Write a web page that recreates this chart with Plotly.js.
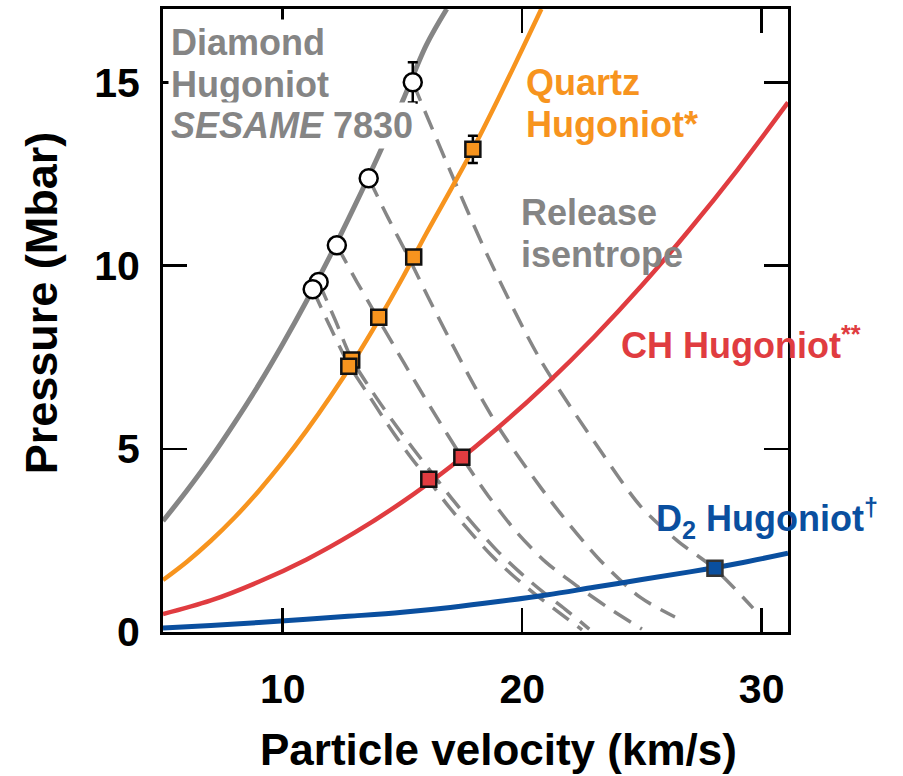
<!DOCTYPE html>
<html><head><meta charset="utf-8">
<script src="https://cdn.plot.ly/plotly-3.0.1.min.js"></script>
<style>html,body{margin:0;padding:0;background:#fff}</style>
</head><body><div id="chart" style="width:903px;height:776px"></div>
<script>
// Hugoniot curves (particle velocity km/s, pressure Mbar)
const diamondU = [5,6,7,8,9,10,11,12,13,14,15,16,16.85];
const diamondP = [3.03,3.86,4.75,5.72,6.75,7.86,9.04,10.29,11.62,13.01,14.48,16.02,17.0];
const quartzU = [5,6,7,8,9,10,11,12,13,14,15,16,17,18,19,20,20.8];
const quartzP = [1.42,1.92,2.49,3.13,3.85,4.64,5.50,6.43,7.43,8.51,9.66,10.88,12.05,13.25,14.55,15.9,17.0];
const chU = [5,7,9,11,13,15,17,19,21,23,25,27,29,31.1];
const chP = [0.49,0.86,1.37,1.98,2.71,3.55,4.51,5.58,6.76,8.05,9.46,10.99,12.62,14.45];
const d2U = [5,7,9,11,13,15,17,19,21,23,25,27,29,31.1];
const d2P = [0.11,0.18,0.26,0.35,0.44,0.54,0.67,0.83,1.01,1.22,1.43,1.64,1.87,2.15];

// Release isentropes
const rel1U = [15.43,16.85,18.57,20.74,23.37,24.92,26.46,28.05,29.64];
const rel1P = [15.0,12.8,10.25,7.45,4.85,3.45,2.5,1.72,0.65];
const rel2U = [13.59,14.4,15.25,16.1,17.0,17.94,19.0,20.03,21.58,23.25,24.92,26.38];
const rel2P = [12.38,11.3,10.23,9.1,7.95,6.79,5.6,4.61,3.25,1.96,0.95,0.41];
const rel3U = [12.26,13.1,13.95,15.1,16.3,17.48,18.6,19.8,21.0,22.3,23.6,25.0];
const rel3P = [10.55,9.55,8.59,7.3,6.0,4.77,3.7,2.7,1.9,1.25,0.66,0.08];
const rel4U = [11.25,12.0,12.76,13.6,14.4,15.2,16.06,16.9,17.8,18.7,19.6,20.6,21.5,22.5];
const rel4P = [9.35,8.3,7.3,6.45,5.65,4.9,4.17,3.45,2.75,2.1,1.55,1.0,0.55,0.06];
const rel5U = [11.5,12.2,12.88,13.75,14.6,15.45,16.3,17.15,18.05,18.95,19.85,20.85,21.8,22.8];
const rel5P = [9.55,8.5,7.45,6.55,5.75,5.0,4.28,3.57,2.87,2.22,1.66,1.1,0.62,0.08];

// Measured points
const diaPtU = [11.50,11.25,12.26,13.59];
const diaPtP = [9.55,9.35,10.55,12.38];
const diaErrU = [15.43], diaErrP = [15.00], diaErr = [0.55];
const qzPtU = [12.88,12.76,14.01,15.47];
const qzPtP = [7.42,7.25,8.59,10.23];
const qzErrU = [17.94], qzErrP = [13.17], qzErr = [0.37];
const chPtU = [16.10,17.48];
const chPtP = [4.17,4.77];
const d2PtU = [28.05];
const d2PtP = [1.74];

const xTicks = [10,20,30];
const yTicks = [0,5,10,15];

const GRAY = '#858585', ORANGE = '#F7941E', RED = '#E03C40', BLUE = '#0A4F9F';
const FONT = 'Liberation Sans, Arial, Helvetica, sans-serif';

const traces = [];
[[rel1U,rel1P],[rel2U,rel2P],[rel3U,rel3P],[rel4U,rel4P],[rel5U,rel5P]].forEach(([u,p]) => {
  traces.push({x:u, y:p, mode:'lines', line:{color:'#868686', width:3.5, dash:'20px,11px', shape:'spline', smoothing:0.8}, hoverinfo:'skip'});
});
traces.push({x:diamondU, y:diamondP, mode:'lines', line:{color:GRAY, width:5, shape:'spline'}});
traces.push({x:quartzU, y:quartzP, mode:'lines', line:{color:ORANGE, width:4.5, shape:'spline'}});
traces.push({x:chU, y:chP, mode:'lines', line:{color:RED, width:4.5, shape:'spline'}});
traces.push({x:d2U, y:d2P, mode:'lines', line:{color:BLUE, width:5, shape:'spline'}});

const eb = v => ({type:'data', array:v, visible:true, color:'#000', thickness:2.5, width:5});
traces.push({x:diaPtU, y:diaPtP, mode:'markers', marker:{symbol:'circle', size:18, color:'#fff', line:{color:'#000', width:2.5}}});
traces.push({x:diaErrU, y:diaErrP, mode:'markers', error_y:eb(diaErr), marker:{symbol:'circle', size:18, color:'#fff', line:{color:'#000', width:2.5}}});
traces.push({x:qzPtU, y:qzPtP, mode:'markers', marker:{symbol:'square', size:15, color:ORANGE, line:{color:'#111', width:2.5}}});
traces.push({x:qzErrU, y:qzErrP, mode:'markers', error_y:eb(qzErr), marker:{symbol:'square', size:15, color:ORANGE, line:{color:'#111', width:2.5}}});
traces.push({x:chPtU, y:chPtP, mode:'markers', marker:{symbol:'square', size:15, color:RED, line:{color:'#111', width:2.5}}});
traces.push({x:d2PtU, y:d2PtP, mode:'markers', marker:{symbol:'square', size:15, color:BLUE, line:{color:'#333', width:2.5}}});

function ann(text, x, y, color, opts) {
  return Object.assign({text:'<b>'+text+'</b>', x:x, y:y, xref:'x', yref:'y', xanchor:'left', yanchor:'middle',
    showarrow:false, font:{family:FONT, size:36, color:color}, borderpad:0}, opts||{});
}
const px2x = px => 5 + (px-162.7)/23.93;
const py2y = py => (632-py)/36.67;

const annotations = [
  ann('Diamond', px2x(168), py2y(42), GRAY, {bgcolor:'#fff', borderpad:2}),
  ann('Hugoniot', px2x(168), py2y(84), GRAY, {bgcolor:'#fff', borderpad:2}),
  ann('<i>SESAME</i> 7830', px2x(168), py2y(125), GRAY, {bgcolor:'#fff', borderpad:2}),
  ann('Quartz', px2x(524), py2y(82), ORANGE),
  ann('Hugoniot*', px2x(524), py2y(124), ORANGE),
  ann('Release', px2x(519), py2y(212), GRAY),
  ann('isentrope', px2x(519), py2y(254), GRAY),
  ann('CH Hugoniot<sup>**</sup>', px2x(619), py2y(343), RED),
  ann('D<sub>2</sub> Hugoniot<sup>†</sup>', px2x(654), py2y(518), BLUE),
  {text:'<b>Particle velocity (km/s)</b>', xref:'paper', yref:'paper', x:(498-162.7)/625.3, y:(632-749)/623, xanchor:'center', yanchor:'middle', showarrow:false, font:{family:FONT, size:44, color:'#000'}},
  {text:'<b>Pressure (Mbar)</b>', xref:'paper', yref:'paper', x:(41-162.7)/625.3, y:(632-303)/623, xanchor:'center', yanchor:'middle', textangle:-90, showarrow:false, font:{family:FONT, size:45, color:'#000'}}
];

const axisCommon = {showline:true, linecolor:'#000', linewidth:3, mirror:'ticks', ticks:'inside', ticklen:24, tickwidth:2.5, tickcolor:'#000',
  showgrid:false, zeroline:false, tickfont:{family:FONT, size:41, color:'#000', weight:'bold'}};

const layout = {
  width:903, height:776, showlegend:false,
  paper_bgcolor:'#fff', plot_bgcolor:'#fff',
  margin:{l:163, r:115, t:9, b:144},
  xaxis:Object.assign({}, axisCommon, {range:[5,31.1], tickmode:'array', tickvals:xTicks, ticktext:xTicks.map(String), ticklabelstandoff:19}),
  yaxis:Object.assign({}, axisCommon, {range:[0,17], tickmode:'array', tickvals:yTicks, ticktext:yTicks.map(String), ticklabelstandoff:12}),
  annotations:annotations
};

Plotly.newPlot('chart', traces, layout, {staticPlot:true, displayModeBar:false});
</script></body></html>
